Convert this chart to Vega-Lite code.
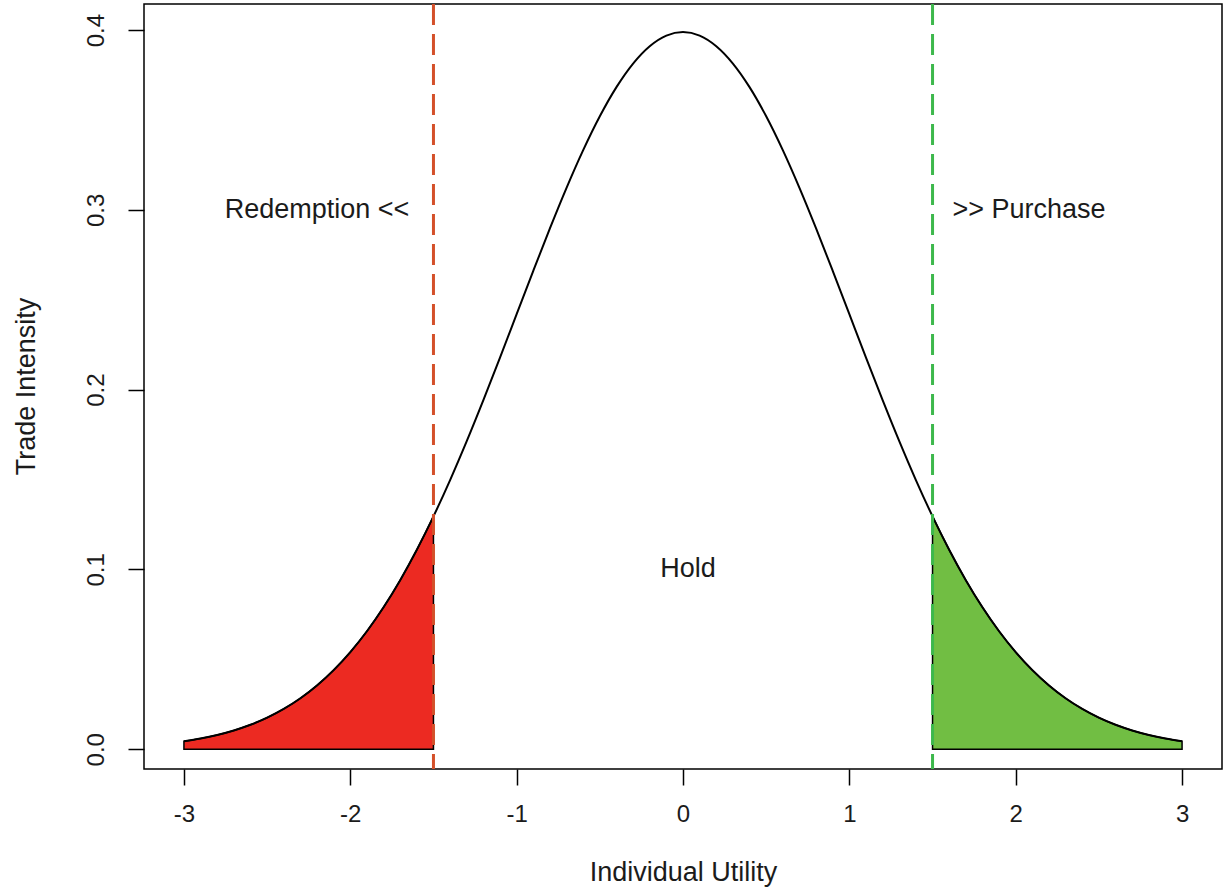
{
  "$schema": "https://vega.github.io/schema/vega-lite/v6.json",
  "width": 1078,
  "height": 765,
  "autosize": {"type": "none"},
  "padding": {"left": 144, "top": 4, "right": 7, "bottom": 120},
  "background": "white",
  "config": {
    "font": "Liberation Sans",
    "view": {"stroke": "black", "strokeWidth": 1.5},
    "axis": {
      "grid": false,
      "domain": false,
      "tickColor": "black",
      "tickWidth": 1.5,
      "tickSize": 16,
      "labelFont": "Liberation Sans",
      "labelFontSize": 24,
      "labelColor": "#1b1b1b",
      "titleFont": "Liberation Sans",
      "titleFontSize": 27,
      "titleFontWeight": "normal",
      "titleColor": "#1b1b1b"
    }
  },
  "datasets": {
    "curve": [
      {"x": -3.0, "density": 0.004432},
      {"x": -2.9, "density": 0.005953},
      {"x": -2.8, "density": 0.007915},
      {"x": -2.7, "density": 0.010421},
      {"x": -2.6, "density": 0.013583},
      {"x": -2.5, "density": 0.017528},
      {"x": -2.4, "density": 0.022395},
      {"x": -2.3, "density": 0.028327},
      {"x": -2.2, "density": 0.035475},
      {"x": -2.1, "density": 0.043984},
      {"x": -2.0, "density": 0.053991},
      {"x": -1.9, "density": 0.065616},
      {"x": -1.8, "density": 0.078950},
      {"x": -1.7, "density": 0.094049},
      {"x": -1.6, "density": 0.110921},
      {"x": -1.5, "density": 0.129518},
      {"x": -1.4, "density": 0.149727},
      {"x": -1.3, "density": 0.171369},
      {"x": -1.2, "density": 0.194186},
      {"x": -1.1, "density": 0.217852},
      {"x": -1.0, "density": 0.241971},
      {"x": -0.9, "density": 0.266085},
      {"x": -0.8, "density": 0.289692},
      {"x": -0.7, "density": 0.312254},
      {"x": -0.6, "density": 0.333225},
      {"x": -0.5, "density": 0.352065},
      {"x": -0.4, "density": 0.368270},
      {"x": -0.3, "density": 0.381388},
      {"x": -0.2, "density": 0.391043},
      {"x": -0.1, "density": 0.396953},
      {"x": 0.0, "density": 0.398942},
      {"x": 0.1, "density": 0.396953},
      {"x": 0.2, "density": 0.391043},
      {"x": 0.3, "density": 0.381388},
      {"x": 0.4, "density": 0.368270},
      {"x": 0.5, "density": 0.352065},
      {"x": 0.6, "density": 0.333225},
      {"x": 0.7, "density": 0.312254},
      {"x": 0.8, "density": 0.289692},
      {"x": 0.9, "density": 0.266085},
      {"x": 1.0, "density": 0.241971},
      {"x": 1.1, "density": 0.217852},
      {"x": 1.2, "density": 0.194186},
      {"x": 1.3, "density": 0.171369},
      {"x": 1.4, "density": 0.149727},
      {"x": 1.5, "density": 0.129518},
      {"x": 1.6, "density": 0.110921},
      {"x": 1.7, "density": 0.094049},
      {"x": 1.8, "density": 0.078950},
      {"x": 1.9, "density": 0.065616},
      {"x": 2.0, "density": 0.053991},
      {"x": 2.1, "density": 0.043984},
      {"x": 2.2, "density": 0.035475},
      {"x": 2.3, "density": 0.028327},
      {"x": 2.4, "density": 0.022395},
      {"x": 2.5, "density": 0.017528},
      {"x": 2.6, "density": 0.013583},
      {"x": 2.7, "density": 0.010421},
      {"x": 2.8, "density": 0.007915},
      {"x": 2.9, "density": 0.005953},
      {"x": 3.0, "density": 0.004432}
    ],
    "cuts": [
      {"x": -1.5, "side": "Redemption"},
      {"x": 1.5, "side": "Purchase"}
    ],
    "labels": [
      {"x": -2.2, "y": 0.3, "label": "Redemption <<"},
      {"x": 2.08, "y": 0.3, "label": ">> Purchase"},
      {"x": 0.03, "y": 0.1, "label": "Hold"}
    ]
  },
  "encoding": {
    "x": {
      "field": "x",
      "type": "quantitative",
      "scale": {"domain": [-3.24, 3.24], "nice": false, "zero": false},
      "axis": {
        "values": [-3, -2, -1, 0, 1, 2, 3],
        "labelExpr": "toString(datum.value)",
        "labelBaseline": "alphabetic",
        "labelPadding": 36,
        "title": "Individual Utility",
        "titleBaseline": "alphabetic",
        "titleY": 111
      }
    }
  },
  "layer": [
    {
      "data": {"name": "curve"},
      "transform": [{"filter": "datum.x <= -1.5"}],
      "mark": {"type": "area", "interpolate": "monotone", "fill": "#EC2A22", "stroke": "black", "strokeWidth": 1.5, "fillOpacity": 1},
      "encoding": {
        "y": {
          "field": "density",
          "type": "quantitative",
          "scale": {"domain": [-0.011, 0.4145], "nice": false, "zero": false},
          "axis": {
            "values": [0, 0.1, 0.2, 0.3, 0.4],
            "format": ".1f",
            "labelAngle": -90,
            "labelAlign": "center",
            "labelBaseline": "alphabetic",
            "labelPadding": 25,
            "title": "Trade Intensity",
            "titleBaseline": "alphabetic",
            "titleAlign": "center",
            "titleAngle": -90,
            "titleX": -110,
            "titleY": 382
          }
        },
        "y2": {"datum": 0}
      }
    },
    {
      "data": {"name": "curve"},
      "transform": [{"filter": "datum.x >= 1.5"}],
      "mark": {"type": "area", "interpolate": "monotone", "fill": "#71BE43", "stroke": "black", "strokeWidth": 1.5, "fillOpacity": 1},
      "encoding": {
        "y": {"field": "density", "type": "quantitative"},
        "y2": {"datum": 0}
      }
    },
    {
      "data": {"name": "curve"},
      "mark": {"type": "line", "interpolate": "monotone", "color": "black", "strokeWidth": 2},
      "encoding": {
        "y": {"field": "density", "type": "quantitative"}
      }
    },
    {
      "data": {"name": "cuts"},
      "mark": {"type": "rule", "strokeWidth": 3, "strokeDash": [21, 9]},
      "encoding": {
        "color": {
          "field": "side",
          "type": "nominal",
          "scale": {"domain": ["Redemption", "Purchase"], "range": ["#D4502A", "#3DB84C"]},
          "legend": null
        }
      }
    },
    {
      "data": {"name": "labels"},
      "mark": {"type": "text", "fontSize": 27, "font": "Liberation Sans", "color": "#1b1b1b", "align": "center", "baseline": "middle"},
      "encoding": {
        "y": {"field": "y", "type": "quantitative"},
        "text": {"field": "label"}
      }
    }
  ]
}
